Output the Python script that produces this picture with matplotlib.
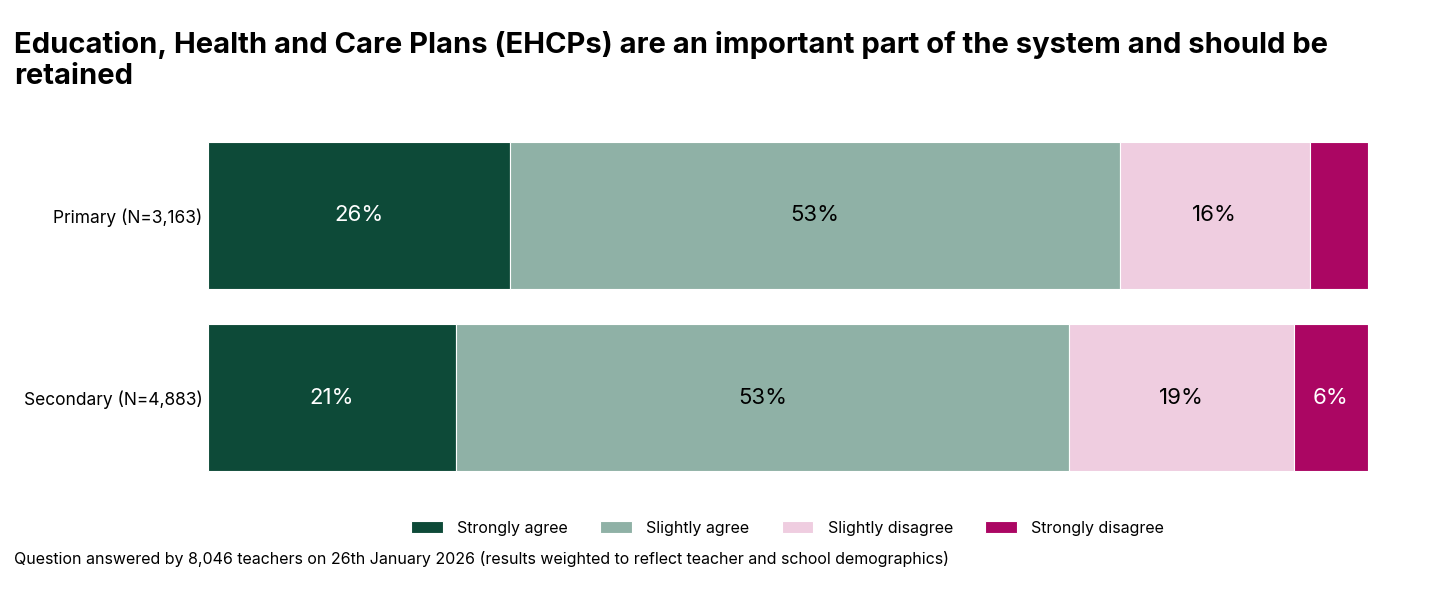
import matplotlib
matplotlib.use("Agg")
import matplotlib.pyplot as plt
import numpy as np

plt.rcParams['font.family'] = ['Inter', 'DejaVu Sans']

groups = ['Primary (N=3,163)', 'Secondary (N=4,883)']
answers = ['Strongly agree', 'Slightly agree', 'Slightly disagree', 'Strongly disagree']
primary = [26.0, 52.6, 16.4, 5.0]
secondary = [21.4, 52.8, 19.4, 6.4]
colours = ['#0d4a38', '#8fb1a6', '#efcde0', '#ab0663']
text_colours = ['white', 'black', 'black', 'white']

values = np.array([primary, secondary])

fig = plt.figure(figsize=(14.4, 6), dpi=100)
ax = fig.add_axes([0.1444, 0.185, 0.8056, 0.608])

left = np.zeros(len(groups))
y = np.arange(len(groups))
for j, name in enumerate(answers):
    ax.barh(y, values[:, j], left=left, height=0.805, color=colours[j],
            edgecolor='white', linewidth=0.8, label=name)
    for i in range(len(groups)):
        v = values[i, j]
        if v >= 5.5:
            ax.text(left[i] + v / 2, y[i], f'{round(v):.0f}%', ha='center', va='center',
                    fontsize=16, color=text_colours[j])
    left += values[:, j]

ax.set_xlim(0, 100)
ax.set_ylim(1.5, -0.5)
ax.set_yticks(y)
ax.set_yticklabels(groups, fontsize=12.5)
ax.set_xticks([])
ax.tick_params(axis='y', length=0, pad=4)
for s in ax.spines.values():
    s.set_visible(False)

fig.text(0.0097, 0.948, 'Education, Health and Care Plans (EHCPs) are an important part of the system and should be\nretained',
         fontsize=21, fontweight='bold', va='top', ha='left', linespacing=1.18)

fig.legend(loc='center', bbox_to_anchor=(0.547, 0.12), ncol=4, frameon=False,
           fontsize=11.5, handlelength=2.0, handleheight=0.8, columnspacing=2.0, handletextpad=0.9)

fig.text(0.0097, 0.068, 'Question answered by 8,046 teachers on 26th January 2026 (results weighted to reflect teacher and school demographics)',
         fontsize=11.5, va='center', ha='left')

fig.savefig('out.png', dpi=100)
